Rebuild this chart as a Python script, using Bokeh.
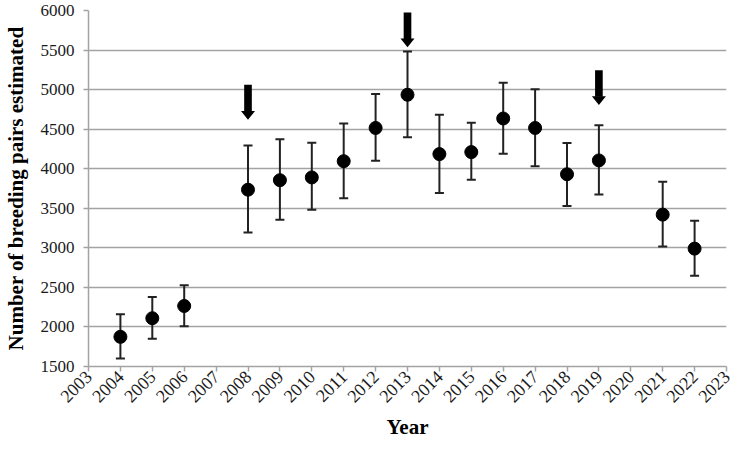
import math
from bokeh.plotting import figure
from bokeh.models import Range1d, FixedTicker, Whisker, ColumnDataSource
from bokeh.embed import file_html
from bokeh.resources import INLINE

# ---- data ----
years = [2004, 2005, 2006, 2008, 2009, 2010, 2011, 2012, 2013, 2014, 2015,
         2016, 2017, 2018, 2019, 2021, 2022]
estimate = [1875, 2110, 2265, 3735, 3855, 3890, 4095, 4515, 4935, 4185, 4210,
            4635, 4515, 3930, 4105, 3420, 2990]
upper = [2160, 2380, 2527, 4292, 4374, 4328, 4573, 4944, 5483, 4683, 4581,
         5087, 5006, 4325, 4549, 3836, 3343]
lower = [1601, 1851, 2010, 3195, 3355, 3481, 3628, 4101, 4398, 3692, 3860,
         4190, 4031, 3530, 3673, 3016, 2646]
tick_years = list(range(2003, 2024))
y_ticks = [1500, 2000, 2500, 3000, 3500, 4000, 4500, 5000, 5500, 6000]

arrow_years = [2008, 2013, 2019]
arrow_top = [5060, 5975, 5245]
arrow_tip = [4620, 5535, 4805]

GRID = "#a3a3a3"
TXT = "#1a1a1a"
SERIF = "Liberation Serif"

p = figure(width=734, height=442, output_backend="svg", toolbar_location=None,
           x_range=Range1d(2003, 2023), y_range=Range1d(1500, 6000),
           min_border_left=83, min_border_right=8, min_border_top=10,
           min_border_bottom=68)
p.outline_line_color = None
p.background_fill_color = "white"

# axes
p.xaxis.ticker = FixedTicker(ticks=tick_years)
p.yaxis.ticker = FixedTicker(ticks=y_ticks)
p.xgrid.grid_line_color = None
p.ygrid.grid_line_color = GRID
p.ygrid.grid_line_width = 1.5
for ax in (p.xaxis[0], p.yaxis[0]):
    ax.axis_line_color = GRID
    ax.axis_line_width = 1.5
    ax.major_tick_line_color = GRID
    ax.major_tick_line_width = 1.5
    ax.major_tick_out = 5
    ax.major_tick_in = 0
    ax.minor_tick_line_color = None
    ax.major_label_text_font = SERIF
    ax.major_label_text_color = TXT
    ax.axis_label_text_font = SERIF
    ax.axis_label_text_font_style = "bold"
    ax.axis_label_text_color = "black"
p.yaxis.major_label_text_font_size = "17px"
p.xaxis.major_label_text_font_size = "18px"
p.xaxis.major_label_orientation = math.pi / 4
p.xaxis.major_label_standoff = 2
p.yaxis.major_label_standoff = 9
p.xaxis.axis_label = "Year"
p.yaxis.axis_label = "Number of breeding pairs estimated"
p.xaxis.axis_label_text_font_size = "21px"
p.yaxis.axis_label_text_font_size = "21px"
p.xaxis.axis_label_standoff = 4
p.yaxis.axis_label_standoff = 10

src = ColumnDataSource(dict(x=years, y=estimate, up=upper, lo=lower))

# error bars
w = Whisker(source=src, base="x", upper="up", lower="lo", dimension="height",
            line_color="#222222", line_width=2)
w.upper_head.size = 9
w.lower_head.size = 9
w.upper_head.line_color = "#222222"
w.lower_head.line_color = "#222222"
w.upper_head.line_width = 2
w.lower_head.line_width = 2
p.add_layout(w)

p.scatter("x", "y", source=src, size=13, fill_color="black", line_color="black")

# arrows: shaft + head
head_h = 110
shaft_half = 0.12
head_half = 0.22
p.quad(left=[a - shaft_half for a in arrow_years],
       right=[a + shaft_half for a in arrow_years],
       bottom=[t + head_h - 5 for t in arrow_tip], top=arrow_top,
       fill_color="black", line_color=None)
p.patches(xs=[[a - head_half, a + head_half, a] for a in arrow_years],
          ys=[[t + head_h, t + head_h, t] for t in arrow_tip],
          fill_color="black", line_color=None)

open("out.html", "w").write(file_html(p, INLINE))
